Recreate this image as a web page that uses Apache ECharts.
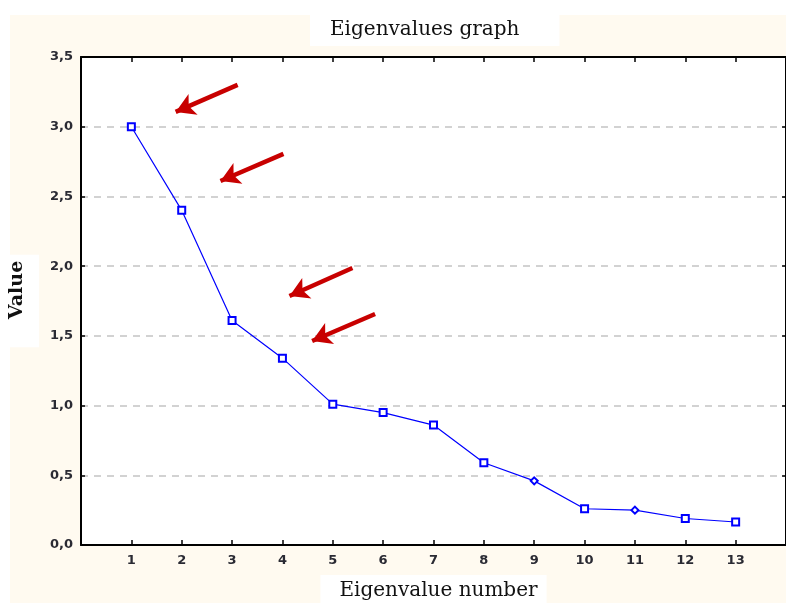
<!DOCTYPE html>
<html>
<head>
<meta charset="utf-8">
<script src="https://cdn.jsdelivr.net/npm/echarts@6/dist/echarts.min.js"></script>
<style>
html,body{margin:0;padding:0;background:#ffffff;}
#chart{width:786px;height:603px;}
</style>
</head>
<body>
<div id="chart"></div>
<script>
// ---- data ----
const eigenNumbers = [1, 2, 3, 4, 5, 6, 7, 8, 9, 10, 11, 12, 13];
const eigenValues = [3.00, 2.40, 1.61, 1.34, 1.01, 0.95, 0.86, 0.59, 0.46, 0.26, 0.25, 0.19, 0.165];
const yTicks = [0, 0.5, 1.0, 1.5, 2.0, 2.5, 3.0, 3.5];
// arrow annotations (data units): tail points and tip points
const arrowTails = [[3.11, 3.30], [4.02, 2.805], [5.39, 1.987], [5.84, 1.657]];
const arrowTips  = [[1.88, 3.106], [2.77, 2.611], [4.14, 1.786], [4.59, 1.463]];
const diamondPoints = [9, 11];

const titleText = 'Eigenvalues graph';
const xName = 'Eigenvalue number';
const yName = 'Value';

const chart = echarts.init(document.getElementById('chart'), null, {renderer: 'canvas'});

const lineData = eigenNumbers.map((n, i) => [n, eigenValues[i]]);
const arrowData = arrowTails.map((t, i) => [{coord: t}, {coord: arrowTips[i]}]);

const serif = '"DejaVu Serif", "Liberation Serif", serif';
const sans = '"DejaVu Sans", "Liberation Sans", sans-serif';

const option = {
  backgroundColor: '#ffffff',
  animation: false,
  graphic: [
    {type: 'rect', left: 10, top: 15, shape: {width: 790, height: 600}, style: {fill: '#fffaf0'}, z: -10, silent: true}
  ],
  title: {
    text: titleText,
    left: 310,
    top: 15,
    padding: [5, 40, 6, 20],
    backgroundColor: '#ffffff',
    textStyle: {fontFamily: serif, fontSize: 20, fontWeight: 'normal', color: '#111'}
  },
  grid: {
    left: 81, right: 0, top: 57, bottom: 58,
    containLabel: false,
    outerBoundsMode: 'none',
    show: true, backgroundColor: '#ffffff', borderWidth: 0
  },
  xAxis: [
    {
      type: 'value', min: 0, max: 14, interval: 1, position: 'bottom',
      name: xName, nameLocation: 'middle', nameGap: 30,
      nameTextStyle: {fontFamily: serif, fontSize: 20, color: '#111', backgroundColor: '#ffffff', padding: [6, 9, 8, 19]},
      axisLine: {show: true, onZero: false, lineStyle: {color: '#000', width: 2}},
      axisTick: {show: true, inside: true, length: 5, lineStyle: {color: '#000', width: 1.5}},
      axisLabel: {
        margin: 9, fontFamily: sans, fontSize: 13, fontWeight: 'bold', color: '#2a2a33',
        formatter: v => (v >= 1 && v <= 13) ? String(v) : ''
      },
      splitLine: {show: false}
    },
    {
      type: 'value', min: 0, max: 14, interval: 1, position: 'top',
      axisLine: {show: true, onZero: false, lineStyle: {color: '#000', width: 2}},
      axisTick: {show: true, inside: true, length: 5, lineStyle: {color: '#000', width: 1.5}},
      axisLabel: {show: false},
      splitLine: {show: false}
    }
  ],
  yAxis: [
    {
      type: 'value', min: 0, max: 3.5, interval: 0.5, position: 'left',
      name: yName, nameLocation: 'middle', nameGap: 41, nameRotate: 90,
      nameTextStyle: {fontFamily: serif, fontSize: 19, fontWeight: 'bold', color: '#111', backgroundColor: '#ffffff', padding: [0, 6, 13, 28]},
      axisLine: {show: true, onZero: false, lineStyle: {color: '#000', width: 2}},
      axisTick: {show: true, inside: true, length: 4, lineStyle: {color: '#000', width: 1.5}},
      axisLabel: {
        margin: 8, fontFamily: sans, fontSize: 13, fontWeight: 'bold', color: '#2a2a33',
        formatter: v => v.toFixed(1).replace('.', ',')
      },
      splitLine: {show: true, lineStyle: {color: '#c4c4c4', width: 1.5, type: [7, 6]}}
    },
    {
      type: 'value', min: 0, max: 3.5, interval: 0.5, position: 'right',
      axisLine: {show: true, onZero: false, lineStyle: {color: '#000', width: 2}},
      axisTick: {show: true, inside: true, length: 4, lineStyle: {color: '#000', width: 1.5}},
      axisLabel: {show: false},
      splitLine: {show: false}
    }
  ],
  series: [
    {
      type: 'line',
      data: lineData,
      xAxisIndex: 0, yAxisIndex: 0,
      symbol: (val, params) => diamondPoints.indexOf(eigenNumbers[params.dataIndex]) >= 0 ? 'emptyDiamond' : 'emptyRect',
      symbolSize: 7,
      showAllSymbol: true,
      lineStyle: {color: '#0000ff', width: 1.2},
      itemStyle: {color: '#0000ff', borderColor: '#0000ff', borderWidth: 1.3},
      z: 5
    },
    {
      type: 'line',
      data: [],
      xAxisIndex: 0, yAxisIndex: 0,
      markLine: {
        silent: true,
        symbol: ['none', 'arrow'],
        symbolSize: [17, 19],
        label: {show: false},
        lineStyle: {color: '#c80000', width: 4.5, type: 'solid'},
        emphasis: {disabled: true},
        data: arrowData
      },
      z: 6
    }
  ]
};
chart.setOption(option);
</script>
</body>
</html>
